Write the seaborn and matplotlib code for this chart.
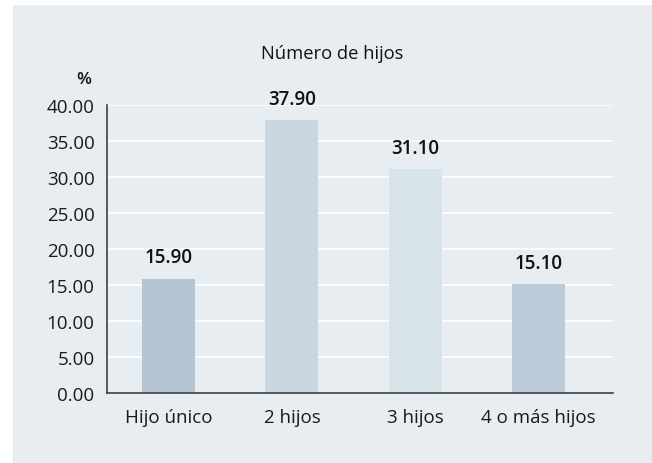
import matplotlib
matplotlib.use("Agg")
import matplotlib.pyplot as plt
import seaborn as sns
import pandas as pd
from matplotlib.patches import Rectangle

categories = ["Hijo único", "2 hijos", "3 hijos", "4 o más hijos"]
values = [15.90, 37.90, 31.10, 15.10]
value_labels = ["15.90", "37.90", "31.10", "15.10"]
yticks = [0, 5, 10, 15, 20, 25, 30, 35, 40]
ytick_labels = ["0.00", "5.00", "10.00", "15.00", "20.00", "25.00", "30.00", "35.00", "40.00"]
title = "Número de hijos"
ylabel = "%"

colors = ["#b4c6d3", "#c9d7e1", "#d9e3ea", "#bbcbd7"]
bg = "#e8edf1"

sns.set_theme(style="white")
plt.rcParams["font.family"] = ["Open Sans", "DejaVu Sans"]

df = pd.DataFrame({"cat": categories, "val": values})

fig = plt.figure(figsize=(6.52, 4.64), dpi=100)
fig.patch.set_facecolor(bg)
# white strips on the left and top edges
fig.patches.append(Rectangle((0, 0), 13 / 652, 1, transform=fig.transFigure,
                             facecolor="white", edgecolor="none", zorder=-10))
fig.patches.append(Rectangle((0, 1 - 6 / 464), 1, 6 / 464, transform=fig.transFigure,
                             facecolor="white", edgecolor="none", zorder=-10))

ax = fig.add_axes([107 / 652, 1 - 394 / 464, (613 - 107) / 652, (394 - 106) / 464])
ax.set_facecolor(bg)

sns.barplot(data=df, x="cat", y="val", hue="cat", palette=colors, order=categories,
            hue_order=categories, legend=False, width=0.43, ax=ax, zorder=3,
            edgecolor="none", saturation=1)

ax.set_ylim(0, 40)
ax.set_xlim(-0.5, 3.604)
ax.set_yticks(yticks)
ax.set_yticklabels(ytick_labels)
ax.tick_params(axis="y", length=0, pad=9, labelsize=13.5, labelcolor="#1a1a1a")
ax.tick_params(axis="x", which="major", length=0, pad=11, labelsize=13.5, labelcolor="#1a1a1a")
ax.set_xticks([-0.5, 0.5, 1.5, 2.5], minor=True)
ax.tick_params(axis="x", which="minor", length=4, width=1, color="#404040", direction="out")
ax.set_xlabel("")
ax.set_ylabel("")

for y in yticks[1:]:
    ax.axhline(y, color="white", lw=1.2, zorder=1)

for s in ["top", "right"]:
    ax.spines[s].set_visible(False)
for s in ["left", "bottom"]:
    ax.spines[s].set_color("#404040")
    ax.spines[s].set_linewidth(1.2)
    ax.spines[s].set_zorder(4)

for i, (v, lab) in enumerate(zip(values, value_labels)):
    ax.annotate(lab, (i, v), xytext=(0, 15.5), textcoords="offset points",
                ha="center", va="center", fontsize=13.5, fontweight="semibold", color="#111111")

fig.text(332 / 652, 1 - 54 / 464, title, ha="center", va="center", fontsize=13.2, color="#111111")
fig.text(84 / 652, 1 - 80 / 464, ylabel, ha="center", va="center", fontsize=12.5, fontweight="semibold", color="#111111")

fig.savefig("out.png", dpi=100, facecolor=fig.get_facecolor())
